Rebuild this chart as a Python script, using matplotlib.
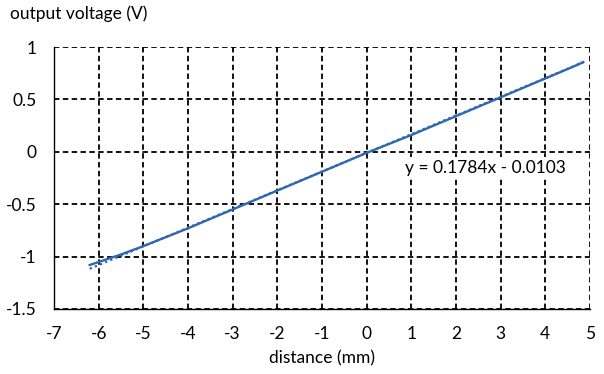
import matplotlib.pyplot as plt
import numpy as np

plt.rcParams['font.family'] = ['Lato', 'DejaVu Sans']

distance = [-6.2, -5.5, -5.0, -4.5, -4.0, -3.5, -3.0, -2.5, -2.0, -1.5, -1.0,
            -0.5, 0.0, 0.5, 1.0, 1.5, 2.0, 2.5, 3.0, 3.5, 4.0, 4.5, 4.85]
voltage = [-1.08, -0.98, -0.90, -0.815, -0.73, -0.64, -0.55, -0.46, -0.37,
           -0.28, -0.19, -0.10, -0.01, 0.075, 0.16, 0.25, 0.34, 0.43, 0.52,
           0.61, 0.70, 0.79, 0.855]
slope = 0.1784
intercept = -0.0103

x_ticks = list(range(-7, 6))
y_ticks = [-1.5, -1, -0.5, 0, 0.5, 1]
y_labels = ['-1.5', '-1', '-0.5', '0', '0.5', '1']

fig = plt.figure(figsize=(6.04, 3.74), dpi=100)
ax = fig.add_axes([0.0894, 0.1738, 0.8874, 0.7005])

blue = '#2F67B1'
xs = np.array([distance[0], distance[-1]])
ax.plot(xs, slope * xs + intercept, color=blue, linestyle=(0, (1, 1.5)), linewidth=1.6, zorder=3)
ax.plot(distance, voltage, color=blue, linewidth=1.7, zorder=4)

ax.set_xlim(-7, 5)
ax.set_ylim(-1.5, 1)
ax.set_xticks(x_ticks)
ax.set_xticklabels([str(t) for t in x_ticks])
ax.set_yticks(y_ticks)
ax.set_yticklabels(y_labels)
ax.tick_params(axis='x', length=0, labelsize=12.5, pad=12)
ax.tick_params(axis='y', length=0, labelsize=12.5, pad=12.5)

ax.grid(True, color='black', linestyle=(0, (3, 1.9)), linewidth=1.3)
ax.set_axisbelow(True)
for side in ['top', 'right']:
    ax.spines[side].set_visible(False)
ax.spines['left'].set_linewidth(1.0)
ax.spines['bottom'].set_linewidth(1.0)

ax.text(0.86, -0.15, 'y = 0.1784x - 0.0103', fontsize=12.5, va='center', ha='left',
        bbox=dict(facecolor='white', edgecolor='none', pad=1.5))

ax.set_xlabel('distance (mm)', fontsize=12.5, labelpad=6)
fig.text(0.016, 0.962, 'output voltage (V)', fontsize=12.5, ha='left', va='center')

fig.savefig('out.png', dpi=100)
